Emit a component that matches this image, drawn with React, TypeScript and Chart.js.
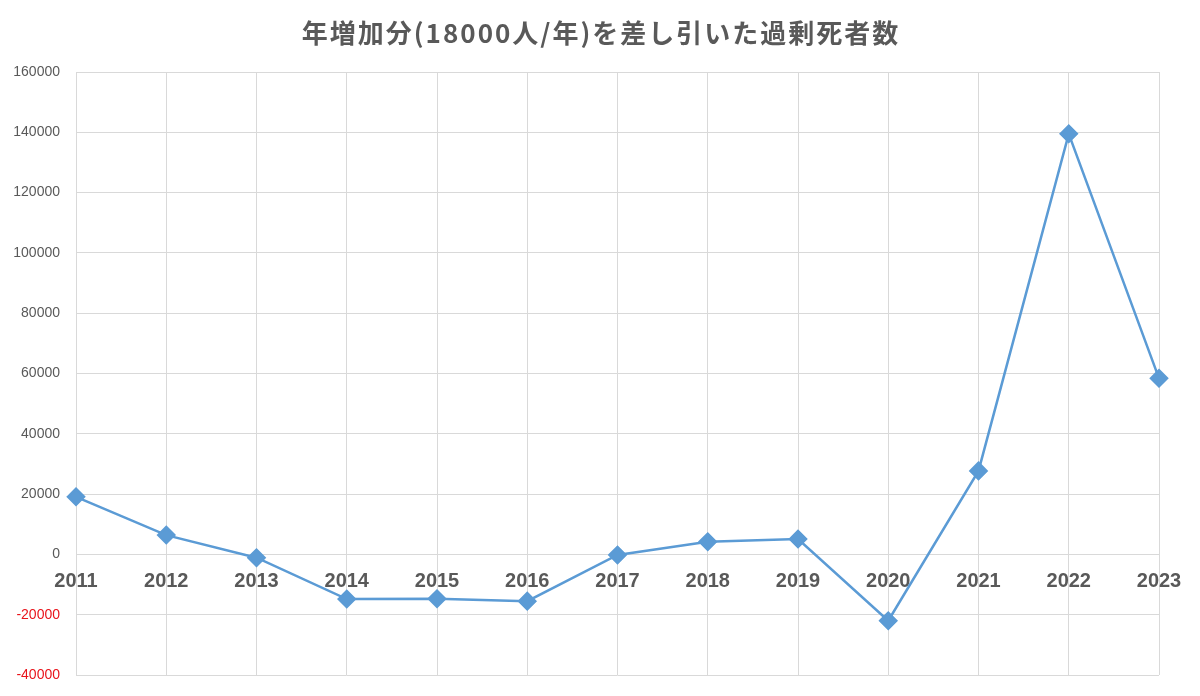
import { useEffect, useRef } from 'react';
import Chart from 'chart.js/auto';

const titleText = '年増加分(18000人/年)を差し引いた過剰死者数';
const years = ['2011', '2012', '2013', '2014', '2015', '2016', '2017', '2018', '2019', '2020', '2021', '2022', '2023'];
const excessDeaths = [19100, 6400, -1100, -14800, -14700, -15500, -200, 4200, 5100, -22000, 27700, 139500, 58400];
const yMin = -40000;
const yMax = 160000;
const yStep = 20000;

// title drawn by hand so the wide letter spacing can be kept
const titlePlugin = {
  id: 'spacedTitle',
  afterDraw(chart: any) {
    const ctx = chart.ctx;
    ctx.save();
    ctx.font = 'bold 26px "Noto Sans CJK JP", "Noto Sans", sans-serif';
    ctx.fillStyle = '#595959';
    ctx.textAlign = 'center';
    ctx.textBaseline = 'middle';
    (ctx as any).letterSpacing = '2px';
    ctx.fillText(titleText, chart.width / 2 + 1, 31);
    ctx.restore();
  },
};

const ExcessDeathsChart = () => {
  const canvasRef = useRef<any>(null);

  useEffect(() => {
    if (!canvasRef?.current) return;
    const ctx = canvasRef.current.getContext('2d');
    const chart = new Chart(ctx, {
      type: 'line',
      data: {
        labels: years,
        datasets: [{
          label: titleText,
          data: excessDeaths,
          borderColor: '#5b9bd5',
          backgroundColor: '#5b9bd5',
          borderWidth: 2.5,
          pointStyle: 'rectRot',
          pointRadius: 8,
          pointHoverRadius: 8,
          pointBackgroundColor: '#5b9bd5',
          pointBorderColor: '#5b9bd5',
          tension: 0,
        }],
      },
      options: {
        animation: false,
        responsive: false,
        layout: { padding: { top: 70, left: 0, right: 39, bottom: 19 } },
        plugins: {
          legend: { display: false },
          title: { display: false },
          tooltip: { enabled: false },
        },
        scales: {
          x: {
            position: { y: 0 } as any,
            offset: false,
            grid: { color: '#d9d9d9', lineWidth: 1, drawTicks: false },
            border: { display: false },
            ticks: {
              padding: 15,
              maxRotation: 0,
              autoSkip: false,
              color: '#595959',
              font: { family: '"Liberation Sans", Arial, sans-serif', size: 20, weight: 'bold' },
            },
          },
          y: {
            min: yMin,
            max: yMax,
            afterFit: (scale: any) => {
              scale.width = 74;
              scale.paddingTop = 0;
              scale.paddingBottom = 0;
            },
            grid: { color: '#d9d9d9', lineWidth: 1, drawTicks: false },
            border: { display: false },
            ticks: {
              stepSize: yStep,
              padding: 16,
              color: (c: any) => (c.tick && c.tick.value < 0 ? '#e8141b' : '#595959'),
              font: { family: '"Liberation Sans", Arial, sans-serif', size: 14 },
              callback: (v: any) => String(v),
            },
          },
        },
      },
      plugins: [titlePlugin],
    });

    return () => {
      chart.destroy();
    };
  }, []);

  return (
    <div style={{ width: 1200, height: 696, boxSizing: 'border-box', border: '2px solid #d9d9d9', background: '#fff' }}>
      <canvas ref={canvasRef} width={1196} height={692} style={{ display: 'block' }}></canvas>
    </div>
  );
};

export default function App() {
  return (
    <div style={{ margin: -8 }}>
      <ExcessDeathsChart />
    </div>
  );
}
